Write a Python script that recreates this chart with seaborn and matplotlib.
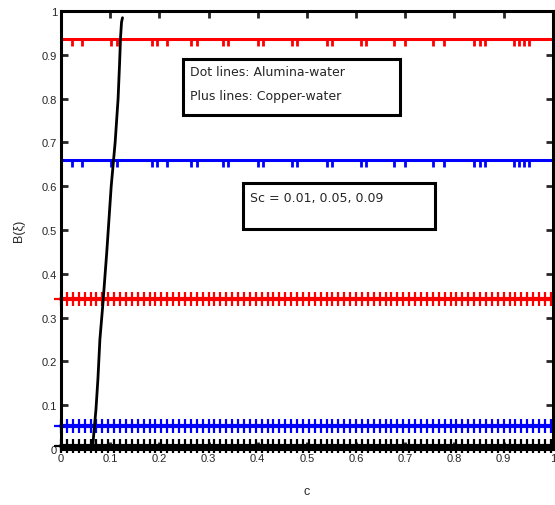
import matplotlib
matplotlib.use("Agg")
import matplotlib.pyplot as plt
from matplotlib.patches import Rectangle
import seaborn as sns
import pandas as pd

# ---- data ----
x_dot = [0.0, 0.022, 0.043, 0.102, 0.114, 0.185, 0.195, 0.215, 0.264, 0.276,
         0.33, 0.34, 0.40, 0.41, 0.47, 0.48, 0.54, 0.55, 0.61, 0.62,
         0.677, 0.699, 0.756, 0.778, 0.839, 0.852, 0.862, 0.921, 0.931,
         0.941, 0.951, 1.0]
red_dot_value = 0.936
blue_dot_value = 0.66

x_plus = [0, 0.012, 0.024, 0.036, 0.048, 0.06, 0.072, 0.084, 0.096, 0.108, 0.12,
          0.132, 0.144, 0.156, 0.168, 0.18, 0.192, 0.204, 0.216, 0.228, 0.24,
          0.252, 0.264, 0.276, 0.288, 0.3, 0.312, 0.324, 0.336, 0.348, 0.36,
          0.372, 0.384, 0.396, 0.408, 0.42, 0.432, 0.444, 0.456, 0.468, 0.48,
          0.492, 0.504, 0.516, 0.528, 0.54, 0.552, 0.564, 0.576, 0.588, 0.6,
          0.612, 0.624, 0.636, 0.648, 0.66, 0.672, 0.684, 0.696, 0.708, 0.72,
          0.732, 0.744, 0.756, 0.768, 0.78, 0.792, 0.804, 0.816, 0.828, 0.84,
          0.852, 0.864, 0.876, 0.888, 0.9, 0.912, 0.924, 0.936, 0.948, 0.96,
          0.972, 0.984, 0.996]
red_plus_value = 0.342
blue_plus_value = 0.053
black_plus_value = 0.006

curve_x = [0.064, 0.067, 0.071, 0.075, 0.079, 0.085, 0.093, 0.102, 0.110,
           0.116, 0.119, 0.121, 0.123, 0.125]
curve_y = [0.0, 0.04, 0.09, 0.16, 0.25, 0.33, 0.45, 0.60, 0.70,
           0.80, 0.88, 0.94, 0.975, 0.985]

tick_vals = [0, 0.1, 0.2, 0.3, 0.4, 0.5, 0.6, 0.7, 0.8, 0.9, 1]
tick_labels = ["0", "0.1", "0.2", "0.3", "0.4", "0.5", "0.6", "0.7", "0.8", "0.9", "1"]

sns.set_style("white")
plt.rcParams['font.family'] = ['Liberation Sans', 'DejaVu Sans']

fig = plt.figure(figsize=(5.55, 5.06), dpi=100)
ax = fig.add_axes([0.110, 0.111, 0.886, 0.865])

df_dot_r = pd.DataFrame({"x": x_dot, "y": [red_dot_value] * len(x_dot)})
df_dot_b = pd.DataFrame({"x": x_dot, "y": [blue_dot_value] * len(x_dot)})
for d, c in [(df_dot_r, "red"), (df_dot_b, "blue")]:
    sns.lineplot(data=d, x="x", y="y", ax=ax, color=c, lw=2.2,
                 marker=3, markersize=5, markeredgewidth=2, markeredgecolor=c,
                 estimator=None, sort=False)

for val, c in [(red_plus_value, "red"), (blue_plus_value, "blue"), (black_plus_value, "black")]:
    d = pd.DataFrame({"x": x_plus, "y": [val] * len(x_plus)})
    sns.lineplot(data=d, x="x", y="y", ax=ax, color=c, lw=3,
                 marker="+", markersize=9.5, markeredgewidth=1.6, markeredgecolor=c,
                 estimator=None, sort=False, clip_on=False)

sns.lineplot(x=curve_x, y=curve_y, ax=ax, color="black", lw=2, estimator=None, sort=False)

ax.set_xlim(0, 1)
ax.set_ylim(0, 1)
ax.set_xticks(tick_vals)
ax.set_xticklabels(tick_labels)
ax.set_yticks(tick_vals)
ax.set_yticklabels(tick_labels)
ax.tick_params(direction="in", length=5, width=2, labelsize=8,
               top=True, right=True, bottom=True, left=True, pad=3)
for s in ax.spines.values():
    s.set_linewidth(2.2)
    s.set_color("black")
    s.set_visible(True)

ax.set_xlabel("c", fontsize=9, labelpad=16)
ax.set_ylabel("B(ξ)", fontsize=9, labelpad=12)

# annotation boxes
ax.add_patch(Rectangle((0.248, 0.763), 0.441, 0.127, transform=ax.transAxes,
                       fill=True, fc="white", ec="black", lw=2.2, zorder=5))
ax.text(0.262, 0.861, "Dot lines: Alumina-water", transform=ax.transAxes,
        fontsize=9, va="center", ha="left", family=["DejaVu Sans"], zorder=6)
ax.text(0.262, 0.808, "Plus lines: Copper-water", transform=ax.transAxes,
        fontsize=9, va="center", ha="left", family=["DejaVu Sans"], zorder=6)

ax.add_patch(Rectangle((0.370, 0.502), 0.390, 0.105, transform=ax.transAxes,
                       fill=True, fc="white", ec="black", lw=2.2, zorder=5))
ax.text(0.384, 0.575, "Sc = 0.01, 0.05, 0.09", transform=ax.transAxes,
        fontsize=9, va="center", ha="left", family=["DejaVu Sans"], zorder=6)

fig.savefig("out.png", dpi=100)
